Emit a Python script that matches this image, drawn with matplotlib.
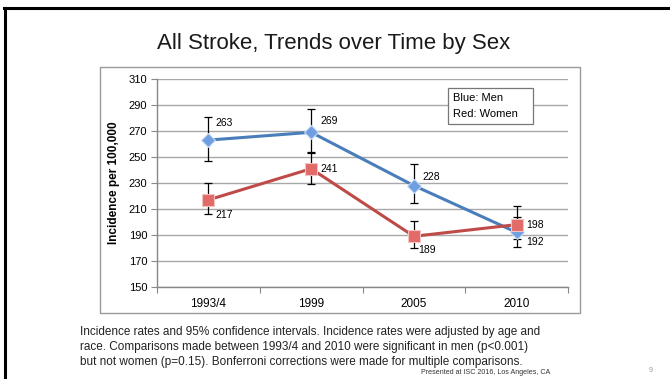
import matplotlib
matplotlib.use("Agg")
import matplotlib.pyplot as plt
from matplotlib.patches import Rectangle
from matplotlib.lines import Line2D

plt.rcParams['font.family'] = ['Liberation Sans', 'DejaVu Sans']

# Data
periods = ["1993/4", "1999", "2005", "2010"]
men_rate = [263, 269, 228, 192]
men_low = [247, 253, 215, 181]
men_high = [281, 287, 245, 204]
women_rate = [217, 241, 189, 198]
women_low = [206, 229, 180, 187]
women_high = [230, 254, 201, 212]
y_ticks = list(range(150, 311, 20))

W, H = 670, 379
fig = plt.figure(figsize=(W / 100, H / 100), dpi=100)

def fx(px):
    return px / W

def fy(py):
    return 1 - py / H

# Slide border (top and left edges)
fig.add_artist(Line2D([fx(4), 1], [fy(8), fy(8)], color='black', lw=2.2))
fig.add_artist(Line2D([fx(5), fx(5)], [fy(8), 0], color='black', lw=2.2))

# Title
fig.text(fx(334), fy(43), "All Stroke, Trends over Time by Sex", ha='center', va='center',
         fontsize=16, color='#1a1a1a')

# Chart frame
fig.add_artist(Rectangle((fx(100), fy(313)), fx(580) - fx(100), fy(67) - fy(313),
                         transform=fig.transFigure, fill=False, edgecolor='#9a9a9a', lw=1.0))

ax = fig.add_axes([fx(157), fy(287), fx(568) - fx(157), fy(79) - fy(287)])
x = [i + 0.5 for i in range(len(periods))]

ax.set_xlim(0, 4)
ax.set_ylim(150, 310)
ax.set_yticks(y_ticks)
ax.set_yticklabels([str(v) for v in y_ticks], fontsize=8)
ax.set_xticks([0, 1, 2, 3, 4])
ax.set_xticklabels([])
ax.set_xticks(x, minor=True)
ax.set_xticklabels(periods, minor=True, fontsize=8.5)
ax.tick_params(axis='x', which='minor', length=0, pad=8)
ax.tick_params(axis='x', which='major', length=4, color='#888888', direction='out')
ax.tick_params(axis='y', length=4, color='#888888', direction='out', pad=3)
for s in ['top', 'right']:
    ax.spines[s].set_visible(False)
for s in ['left', 'bottom']:
    ax.spines[s].set_color('#888888')
    ax.spines[s].set_linewidth(1.0)
ax.yaxis.grid(True, color='#a8a8a8', lw=1.0)
ax.set_axisbelow(True)
ax.set_ylabel("Incidence per 100,000", fontsize=8.5, fontweight='bold', labelpad=6)

# Confidence intervals
for rate, lo, hi in [(men_rate, men_low, men_high), (women_rate, women_low, women_high)]:
    err = [[r - l for r, l in zip(rate, lo)], [h - r for r, h in zip(rate, hi)]]
    ax.errorbar(x, rate, yerr=err, fmt='none', ecolor='black', elinewidth=0.9,
                capsize=3, capthick=0.9, zorder=2)

ax.plot(x, men_rate, color='#4a7ebb', lw=2.2, marker='D', markersize=7,
        markerfacecolor='#6f9fe0', markeredgecolor='#c9dcf5', markeredgewidth=0.8, zorder=3)
ax.plot(x, women_rate, color='#be4b48', lw=2.2, marker='s', markersize=8,
        markerfacecolor='#e26b68', markeredgecolor='#f2c4c3', markeredgewidth=0.8, zorder=4)

# Value labels (pixel offsets from each point)
men_off = [(16, 17), (18, 11), (17, 9), (18, -10)]
women_off = [(16, -15), (18, 0), (13, -14), (18, 0)]
for xi, v, (dx, dy) in zip(x, men_rate, men_off):
    ax.annotate(str(v), (xi, v), xytext=(dx, dy), textcoords='offset pixels',
                ha='center', va='center', fontsize=7.5, zorder=5)
for xi, v, (dx, dy) in zip(x, women_rate, women_off):
    ax.annotate(str(v), (xi, v), xytext=(dx, dy), textcoords='offset pixels',
                ha='center', va='center', fontsize=7.5, zorder=5)

# Colour key box
fig.add_artist(Rectangle((fx(448), fy(124)), fx(533) - fx(448), fy(88) - fy(124),
                         transform=fig.transFigure, facecolor='white', edgecolor='#777777',
                         lw=0.9, zorder=6))
fig.text(fx(453), fy(98), "Blue: Men", ha='left', va='center', fontsize=8, zorder=7)
fig.text(fx(453), fy(114), "Red: Women", ha='left', va='center', fontsize=8, zorder=7)

# Caption
caption = ["Incidence rates and 95% confidence intervals. Incidence rates were adjusted by age and",
           "race. Comparisons made between 1993/4 and 2010 were significant in men (p<0.001)",
           "but not women (p=0.15). Bonferroni corrections were made for multiple comparisons."]
for i, line in enumerate(caption):
    fig.text(fx(80), fy(332 + 15 * i), line, ha='left', va='center', fontsize=8.5, color='#222222')

fig.text(fx(486), fy(372), "Presented at ISC 2016, Los Angeles, CA", ha='center', va='center',
         fontsize=5.1, color='#333333')
fig.text(fx(651), fy(370), "9", ha='center', va='center', fontsize=5, color='#999999')

fig.savefig("out.png", dpi=100)
